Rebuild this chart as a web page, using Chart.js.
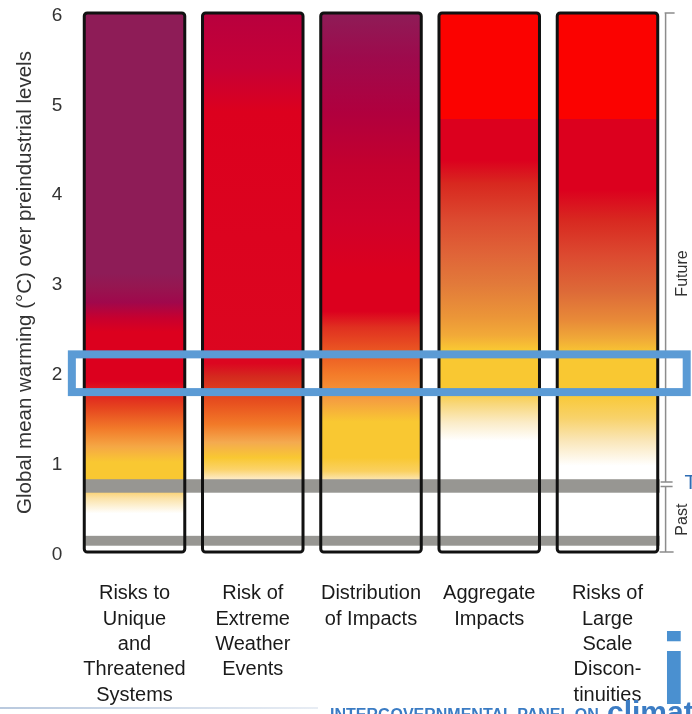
<!DOCTYPE html>
<html lang="en">

<head>
    <meta charset="UTF-8">
    <title>Reasons for concern</title>
    <style>
        body { margin: 0; background: #fff; }
        canvas { display: block; }
    </style>
</head>

<body>
    <canvas id="embers" width="692" height="714"></canvas>
    <script src="https://cdn.jsdelivr.net/npm/chart.js@4.4.1/dist/chart.umd.min.js"></script>
    <script>
        // categories (x labels, one line per entry)
        const categoryLabels = [
            ["Risks to", "Unique", "and", "Threatened", "Systems"],
            ["Risk of", "Extreme", "Weather", "Events"],
            ["Distribution", "of Impacts"],
            ["Aggregate", "Impacts"],
            ["Risks of", "Large", "Scale", "Discon-", "tinuities"]
        ]

        // each ember runs over this warming range (°C)
        const emberLow = [0, 0, 0, 0, 0]
        const emberHigh = [6, 6, 6, 6, 6]

        // colour stops: [warming °C, colour]
        const uniqueStops = [
            [0, '#ffffff'], [0.43, '#ffffff'], [0.6, '#fbe2a6'], [0.66, '#fad47a'],
            [0.81, '#f9c832'], [1.0, '#f9c832'], [1.17, '#f5a845'], [1.37, '#f27b2a'],
            [1.6, '#e6461f'], [1.8, '#dd1a1f'], [1.9, '#dc001e'], [2.45, '#dc001e'],
            [2.6, '#c8002e'], [2.78, '#a0084c'], [2.95, '#961650'], [3.1, '#8e1c57'], [6, '#8e1c57']
        ]
        const extremeStops = [
            [0, '#ffffff'], [0.66, '#ffffff'], [0.82, '#fde9c0'], [0.92, '#fbd36a'],
            [1.05, '#f9c832'], [1.22, '#f4aa50'], [1.42, '#f27a28'], [1.65, '#e8521f'],
            [1.95, '#d42a1e'], [2.1, '#dc0620'], [4.9, '#dc001e'], [5.4, '#c60036'], [6, '#b8003e']
        ]
        const distributionStops = [
            [0, '#ffffff'], [0.66, '#ffffff'], [0.8, '#fce6b5'], [0.9, '#fad060'],
            [1.05, '#f9c832'], [1.45, '#f9c832'], [1.68, '#f5a040'], [1.97, '#f47c2a'],
            [2.25, '#ea5522'], [2.5, '#e03020'], [2.68, '#dc001e'], [3.1, '#dc001e'],
            [3.7, '#d0002a'], [4.3, '#c4002e'], [4.9, '#b0003e'], [5.5, '#9e0a4c'], [6, '#8e1c57']
        ]
        const aggregateStops = [
            [0, '#ffffff'], [1.24, '#ffffff'], [1.44, '#fbecc8'], [1.65, '#f8d77a'],
            [1.81, '#f9c832'], [2.25, '#f9c832'], [2.41, '#f2aa38'], [2.62, '#eb9538'],
            [2.98, '#e27a3a'], [3.3, '#e06538'], [3.7, '#dc4a30'], [4.1, '#d8281f'],
            [4.36, '#dc001e'], [4.82, '#dc001e'], [4.82, '#fb0200'], [6, '#fb0200']
        ]
        const discontinuityStops = [
            [0, '#ffffff'], [0.96, '#ffffff'], [1.24, '#fae6b8'], [1.49, '#f8d26a'],
            [1.77, '#f9c832'], [2.21, '#f9c832'], [2.38, '#f0a838'], [2.58, '#e88a38'],
            [2.9, '#dd6a38'], [3.3, '#dc4a30'], [3.7, '#d82820'], [4.03, '#dc001e'],
            [4.82, '#dc001e'], [4.82, '#fb0200'], [6, '#fb0200']
        ]
        const emberStops = [uniqueStops, extremeStops, distributionStops, aggregateStops, discontinuityStops]

        // grey reference bands (°C) and the highlighted band
        const pastBands = [[0.07, 0.18], [0.66, 0.81]]
        const highlightBand = [1.78, 2.2]
        // bracket on the right: future from the break upwards, past below it
        const bracketBreak = [0.73, 0.78]
        const futureLabelAt = 3.1
        const pastLabelAt = 0.36

        function emberFill(context) {
            const chart = context.chart
            if (!chart.chartArea) return '#ffffff'
            const y = chart.scales.y
            const y0 = y.getPixelForValue(y.min)
            const y1 = y.getPixelForValue(y.max)
            const g = chart.ctx.createLinearGradient(0, y0, 0, y1)
            emberStops[context.dataIndex].forEach(([t, c]) => {
                g.addColorStop((t - y.min) / (y.max - y.min), c)
            })
            return g
        }

        const emberExtras = {
            id: 'emberExtras',
            afterDatasetsDraw(chart) {
                const ctx = chart.ctx
                const x = chart.scales.x
                const y = chart.scales.y
                const bars = chart.getDatasetMeta(0).data.map(b => b.getProps(['x', 'y', 'base', 'width'], true))
                const first = bars[0]
                const last = bars[bars.length - 1]
                const left = first.x - first.width / 2 - 1
                const right = last.x + last.width / 2 + 2

                ctx.save()
                // grey bands
                ctx.fillStyle = '#979692'
                pastBands.forEach(([lo, hi]) => {
                    const top = y.getPixelForValue(hi)
                    ctx.fillRect(left, top, right - left, y.getPixelForValue(lo) - top)
                })

                // ember outlines
                ctx.strokeStyle = '#111'
                ctx.lineWidth = 3
                bars.forEach(b => {
                    ctx.beginPath()
                    ctx.roundRect(b.x - b.width / 2, b.y, b.width, b.base - b.y, 3)
                    ctx.stroke()
                })

                // bracket Future / Past
                const bx = chart.chartArea.right - 1
                const yTop = y.getPixelForValue(y.max)
                const yBot = y.getPixelForValue(y.min)
                const yb1 = y.getPixelForValue(bracketBreak[1])
                const yb0 = y.getPixelForValue(bracketBreak[0])
                ctx.strokeStyle = '#8c8c8c'
                ctx.lineWidth = 1.5
                ctx.beginPath()
                ctx.moveTo(bx, yTop); ctx.lineTo(bx, yb1)
                ctx.moveTo(bx, yb0); ctx.lineTo(bx, yBot)
                ctx.moveTo(bx - 1, yTop); ctx.lineTo(bx + 9, yTop)
                ctx.moveTo(bx - 6, yBot); ctx.lineTo(bx + 8, yBot)
                ctx.moveTo(bx - 5, yb1); ctx.lineTo(bx + 7, yb1)
                ctx.moveTo(bx - 5, yb0); ctx.lineTo(bx + 7, yb0)
                ctx.stroke()

                ctx.fillStyle = '#333'
                ctx.font = '16px "Liberation Sans", Arial, sans-serif'
                ctx.textAlign = 'center'
                ctx.textBaseline = 'middle'
                ;[['Future', futureLabelAt], ['Past', pastLabelAt]].forEach(([t, v]) => {
                    ctx.save()
                    ctx.translate(bx + 17, y.getPixelForValue(v))
                    ctx.rotate(-Math.PI / 2)
                    ctx.fillText(t, 0, 0)
                    ctx.restore()
                })
                ctx.fillStyle = '#2e6db4'
                ctx.font = '20px "Liberation Sans", Arial, sans-serif'
                ctx.textAlign = 'left'
                ctx.fillText('T', bx + 19, y.getPixelForValue((bracketBreak[0] + bracketBreak[1]) / 2) - 1)

                // highlighted 2 °C band
                ctx.strokeStyle = '#5b9bd5'
                ctx.lineWidth = 8
                const hx0 = x.getPixelForValue(-0.53)
                const hx1 = x.getPixelForValue(4.67)
                const hy0 = y.getPixelForValue(highlightBand[1])
                const hy1 = y.getPixelForValue(highlightBand[0])
                ctx.strokeRect(hx0, hy0, hx1 - hx0, hy1 - hy0)

                // footer strip, cut by the bottom edge
                const h = chart.height
                const lg = ctx.createLinearGradient(0, 0, 320, 0)
                lg.addColorStop(0, '#b9c9de')
                lg.addColorStop(1, '#e8edf4')
                ctx.fillStyle = lg
                ctx.fillRect(0, h - 7, 318, 2)
                ctx.fillStyle = '#3b7cc4'
                ctx.font = 'bold 16px "Liberation Sans", Arial, sans-serif'
                ctx.textBaseline = 'top'
                ctx.fillText('INTERGOVERNMENTAL PANEL ON', 330, h - 6)
                ctx.font = 'bold 30px "Liberation Sans", Arial, sans-serif'
                ctx.fillText('climate', 607, h - 15)
                ctx.fillStyle = '#4a90d0'
                ctx.font = 'bold 100px "Liberation Sans", Arial, sans-serif'
                ctx.textBaseline = 'alphabetic'
                ctx.fillText('ip', 660, h - 10)
                ctx.restore()
            }
        }

        const chart = new Chart(document.getElementById('embers'), {
            type: 'bar',
            data: {
                labels: categoryLabels,
                datasets: [{
                    data: emberLow.map((lo, i) => [lo, emberHigh[i]]),
                    backgroundColor: emberFill,
                    borderWidth: 0,
                    barPercentage: 0.85,
                    categoryPercentage: 1
                }]
            },
            options: {
                responsive: false,
                animation: false,
                layout: { padding: { top: 13, right: 25.4, left: 0, bottom: 0 } },
                plugins: { legend: { display: false }, tooltip: { enabled: false } },
                scales: {
                    x: {
                        grid: { display: false, drawTicks: false },
                        border: { display: false },
                        ticks: {
                            color: '#1a1a1a',
                            font: { family: '"Liberation Sans", Arial, sans-serif', size: 20, lineHeight: 1.27 },
                            padding: 29,
                            maxRotation: 0,
                            autoSkip: false
                        },
                        afterFit: s => { s.height = 162 }
                    },
                    y: {
                        min: 0,
                        max: 6,
                        grid: { display: false, drawTicks: false },
                        border: { display: false },
                        ticks: {
                            stepSize: 1,
                            color: '#333',
                            font: { family: '"Liberation Sans", Arial, sans-serif', size: 19 },
                            padding: 13,
                            labelOffset: 2.5
                        },
                        title: {
                            display: true,
                            text: 'Global mean warming (°C) over preindustrial levels',
                            color: '#333',
                            font: { family: '"Liberation Sans", Arial, sans-serif', size: 20.5 },
                            padding: { top: 13.5, bottom: 0 }
                        },
                        afterFit: s => {
                            s.width = 75.4
                            s.paddingTop = 0
                            s.paddingBottom = 0
                        }
                    }
                }
            },
            plugins: [emberExtras]
        })
    </script>
</body>

</html>
